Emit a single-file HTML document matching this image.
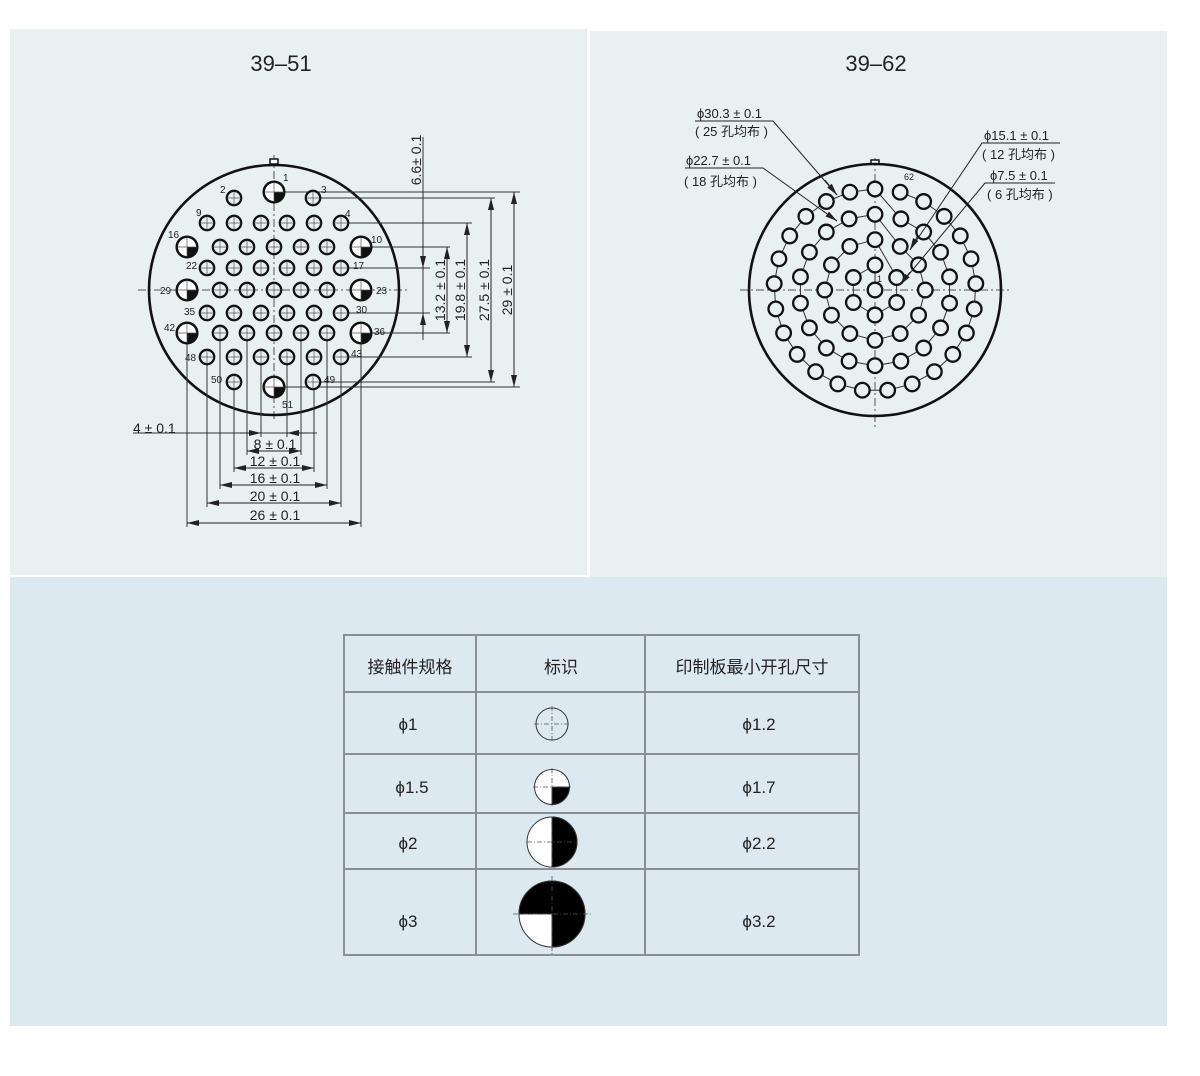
<!DOCTYPE html>
<html><head><meta charset="utf-8"><style>
body{margin:0;background:#fff;width:1200px;height:1076px;overflow:hidden}
svg{display:block}
text{font-family:"Liberation Sans","Noto Sans CJK SC",sans-serif;fill:#222}
</style></head><body>
<svg id="s" width="1200" height="1076" viewBox="0 0 1200 1076" xmlns="http://www.w3.org/2000/svg">
<defs>
<marker id="ar" viewBox="0 0 12 6" refX="12" refY="3" markerWidth="12" markerHeight="6" markerUnits="userSpaceOnUse" orient="auto-start-reverse"><path d="M0,0 L12,3 L0,6 Z" fill="#222"/></marker>
<g id="sm"><circle r="7.2" fill="#e9f0f0" stroke="#111" stroke-width="2.3"/><path d="M-7,0H7M0,-7V7" stroke="#555" stroke-width="0.7"/></g>
<g id="bg"><circle r="10.3" fill="#fff" stroke="#111" stroke-width="2.5"/><path d="M0,0 H10.3 A10.3,10.3 0 0 1 0,10.3 Z" fill="#111"/><path d="M-10,0H10M0,-10V10" stroke="#555" stroke-width="0.7"/></g>
</defs>
<rect x="10" y="29" width="577" height="546" fill="#e9f0f0"/>
<rect x="590" y="31" width="577" height="546" fill="#e9f0f0"/>
<rect x="10" y="577" width="1157" height="449" fill="#dde9f0"/>
<text x="281" y="71" font-size="22" text-anchor="middle" fill="#333">39–51</text>
<text x="876" y="71" font-size="22" text-anchor="middle" fill="#333">39–62</text>

<!-- LEFT -->
<g stroke="#555" stroke-width="1" stroke-dasharray="8,3,2,3">
<line x1="138" y1="290" x2="410" y2="290"/><line x1="274" y1="155" x2="274" y2="420"/>
</g>
<rect x="270" y="159" width="8" height="5" fill="#fff" stroke="#111" stroke-width="1.5"/>
<circle cx="274" cy="290" r="125" fill="none" stroke="#111" stroke-width="2.6"/>
<g stroke="#333" stroke-width="1" fill="none">
<path d="M274,192H520M313,198H495M341,223H472M361,247H450M341,268H430M341,313H430M361,333H450M341,357H472M313,382H495M274,387H520"/>
<path d="M187,333V527M207,357V507M220,333V489M234,382V472M247,333V455M261,357V437M287,357V437M301,333V455M314,382V472M327,333V489M341,357V507M361,333V527"/>
<line x1="423" y1="137" x2="423" y2="340"/>
<line x1="133" y1="433" x2="317" y2="433"/>
</g>
<g stroke="#222" stroke-width="1" fill="none" marker-end="url(#ar)" marker-start="url(#ar)">
<line x1="447" y1="247" x2="447" y2="333"/>
<line x1="467" y1="223" x2="467" y2="357"/>
<line x1="491" y1="198" x2="491" y2="382"/>
<line x1="514" y1="192" x2="514" y2="387"/>
<line x1="247" y1="451" x2="301" y2="451"/>
<line x1="234" y1="468" x2="314" y2="468"/>
<line x1="220" y1="485" x2="327" y2="485"/>
<line x1="207" y1="503" x2="341" y2="503"/>
<line x1="187" y1="523" x2="361" y2="523"/>
</g>
<g stroke="#222" stroke-width="1" marker-end="url(#ar)">
<line x1="423" y1="245" x2="423" y2="268"/><line x1="423" y1="336" x2="423" y2="313"/>
<line x1="240" y1="433" x2="261" y2="433"/><line x1="308" y1="433" x2="287" y2="433"/>
</g>
<g font-size="14">
<text transform="translate(421,160) rotate(-90)" text-anchor="middle">6.6± 0.1</text>
<text transform="translate(445,290) rotate(-90)" text-anchor="middle">13.2 ± 0.1</text>
<text transform="translate(465,290) rotate(-90)" text-anchor="middle">19.8 ± 0.1</text>
<text transform="translate(489,290) rotate(-90)" text-anchor="middle">27.5 ± 0.1</text>
<text transform="translate(512,290) rotate(-90)" text-anchor="middle">29 ± 0.1</text>
<text x="133" y="433">4 ± 0.1</text>
<text x="275" y="449" text-anchor="middle">8 ± 0.1</text>
<text x="275" y="466" text-anchor="middle">12 ± 0.1</text>
<text x="275" y="483" text-anchor="middle">16 ± 0.1</text>
<text x="275" y="501" text-anchor="middle">20 ± 0.1</text>
<text x="275" y="520" text-anchor="middle">26 ± 0.1</text>
</g>
<g>
<use href="#sm" x="234" y="198"/><use href="#bg" x="274" y="192"/><use href="#sm" x="313" y="198"/>
<use href="#sm" x="207" y="223"/><use href="#sm" x="234" y="223"/><use href="#sm" x="261" y="223"/><use href="#sm" x="287" y="223"/><use href="#sm" x="314" y="223"/><use href="#sm" x="341" y="223"/>
<use href="#bg" x="187" y="247"/><use href="#sm" x="220" y="247"/><use href="#sm" x="247" y="247"/><use href="#sm" x="274" y="247"/><use href="#sm" x="301" y="247"/><use href="#sm" x="327" y="247"/><use href="#bg" x="361" y="247"/>
<use href="#sm" x="207" y="268"/><use href="#sm" x="234" y="268"/><use href="#sm" x="261" y="268"/><use href="#sm" x="287" y="268"/><use href="#sm" x="314" y="268"/><use href="#sm" x="341" y="268"/>
<use href="#bg" x="187" y="290"/><use href="#sm" x="220" y="290"/><use href="#sm" x="247" y="290"/><use href="#sm" x="274" y="290"/><use href="#sm" x="301" y="290"/><use href="#sm" x="327" y="290"/><use href="#bg" x="361" y="290"/>
<use href="#sm" x="207" y="313"/><use href="#sm" x="234" y="313"/><use href="#sm" x="261" y="313"/><use href="#sm" x="287" y="313"/><use href="#sm" x="314" y="313"/><use href="#sm" x="341" y="313"/>
<use href="#bg" x="187" y="333"/><use href="#sm" x="220" y="333"/><use href="#sm" x="247" y="333"/><use href="#sm" x="274" y="333"/><use href="#sm" x="301" y="333"/><use href="#sm" x="327" y="333"/><use href="#bg" x="361" y="333"/>
<use href="#sm" x="207" y="357"/><use href="#sm" x="234" y="357"/><use href="#sm" x="261" y="357"/><use href="#sm" x="287" y="357"/><use href="#sm" x="314" y="357"/><use href="#sm" x="341" y="357"/>
<use href="#sm" x="234" y="382"/><use href="#bg" x="274" y="387"/><use href="#sm" x="313" y="382"/>
</g>
<g font-size="10">
<text x="283" y="181">1</text><text x="220" y="193">2</text><text x="321" y="193">3</text>
<text x="196" y="216">9</text><text x="345" y="217">4</text><text x="168" y="238">16</text><text x="371" y="243">10</text>
<text x="186" y="269">22</text><text x="353" y="269">17</text><text x="160" y="294">29</text><text x="376" y="294">23</text>
<text x="184" y="315">35</text><text x="356" y="313">30</text><text x="164" y="331">42</text><text x="374" y="335">36</text>
<text x="185" y="361">48</text><text x="351" y="357">43</text><text x="211" y="383">50</text><text x="324" y="383">49</text>
<text x="282" y="408">51</text>
</g>

<!-- RIGHT -->
<g stroke="#555" stroke-width="1" stroke-dasharray="8,3,2,3">
<line x1="740" y1="290" x2="1010" y2="290"/><line x1="875" y1="158" x2="875" y2="428"/>
</g>
<rect x="871" y="160" width="8" height="4" fill="#fff" stroke="#111" stroke-width="1.5"/>
<circle cx="875" cy="290" r="126" fill="none" stroke="#111" stroke-width="2.6"/>
<g id="rg"></g>
<text x="904" y="180" font-size="9">62</text>
<text x="877" y="282" font-size="9">1</text>
<g stroke="#222" stroke-width="1" fill="none">
<path d="M695,121H773L837,195M685,168H763L837,221M1060,143H982L910,250M1055,183H985L900,285"/>
</g>
<g stroke="#222" stroke-width="1" marker-end="url(#ar)">
<line x1="825" y1="180" x2="837" y2="195"/><line x1="823" y1="211" x2="837" y2="221"/>
<line x1="917" y1="237" x2="910" y2="250"/><line x1="910" y1="272" x2="900" y2="285"/>
</g>
<g font-size="13">
<text x="697" y="118">ϕ30.3 ± 0.1</text><text x="695" y="136">( 25 孔均布 )</text>
<text x="686" y="165">ϕ22.7 ± 0.1</text><text x="684" y="186">( 18 孔均布 )</text>
<text x="984" y="140">ϕ15.1 ± 0.1</text><text x="982" y="159">( 12 孔均布 )</text>
<text x="990" y="180">ϕ7.5 ± 0.1</text><text x="987" y="199">( 6 孔均布 )</text>
</g>

<!-- TABLE -->
<g stroke="#8a8f93" stroke-width="2" fill="none">
<rect x="344" y="635" width="515" height="320"/>
<path d="M476,635V955M645,635V955M344,692H859M344,754H859M344,813H859M344,869H859"/>
</g>
<g font-size="17" text-anchor="middle">
<text x="410" y="673">接触件规格</text><text x="561" y="673">标识</text><text x="752" y="673">印制板最小开孔尺寸</text>
<text x="408" y="730">ϕ1</text><text x="412" y="793">ϕ1.5</text><text x="408" y="849">ϕ2</text><text x="408" y="927">ϕ3</text>
<text x="759" y="730">ϕ1.2</text><text x="759" y="793">ϕ1.7</text><text x="759" y="849">ϕ2.2</text><text x="759" y="927">ϕ3.2</text>
</g>
<g stroke="#333" stroke-width="1">
<circle cx="552" cy="724" r="16" fill="none"/>
<circle cx="552" cy="787" r="17.5" fill="#fff"/>
<path d="M552,787H569.5A17.5,17.5 0 0 1 552,804.5Z" fill="#000"/>
<circle cx="552" cy="842" r="25" fill="#fff"/>
<path d="M552,817A25,25 0 0 1 552,867Z" fill="#000"/>
<circle cx="552" cy="914" r="33" fill="#fff"/>
<path d="M519,914A33,33 0 0 1 585,914A33,33 0 0 1 552,947V914Z" fill="#000"/>
</g>
<g stroke="#555" stroke-width="0.8" stroke-dasharray="5,2,1,2">
<path d="M534,724H570M552,706V742M533,787H571M552,768V806M527,842H577M552,817V867M513,914H592M552,876V954"/>
</g>
</svg>
<script>
(function(){
var ns="http://www.w3.org/2000/svg",g=document.getElementById('rg'),cx=875,cy=290;
var rings=[[6,25],[12,50.3],[18,75.7],[25,101]],P=[];
rings.forEach(function(r){var a=[];for(var i=0;i<r[0];i++){var t=i*2*Math.PI/r[0];a.push([cx+r[1]*Math.sin(t),cy-r[1]*Math.cos(t)]);}P.push(a);});
function el(n,at){var e=document.createElementNS(ns,n);for(var k in at)e.setAttribute(k,at[k]);g.appendChild(e);return e;}
P.forEach(function(a){var s=[a[0]];for(var i=a.length-1;i>=1;i--)s.push(a[i]);el('polyline',{points:s.map(function(p){return p.join(',')}).join(' '),fill:'none',stroke:'#333','stroke-width':1});});
for(var k=3;k>=1;k--){var p=P[k][0],q=P[k-1][1];el('line',{x1:p[0],y1:p[1],x2:q[0],y2:q[1],stroke:'#333','stroke-width':1});}
el('line',{x1:cx,y1:P[0][0][1],x2:cx,y2:cy,stroke:'#333','stroke-width':1});
var all=[[cx,cy]];P.forEach(function(a){all=all.concat(a);});
all.forEach(function(p){el('circle',{cx:p[0],cy:p[1],r:7.3,fill:'#e9f0f0',stroke:'#111','stroke-width':2.3});});
})();
</script>
</body></html>
